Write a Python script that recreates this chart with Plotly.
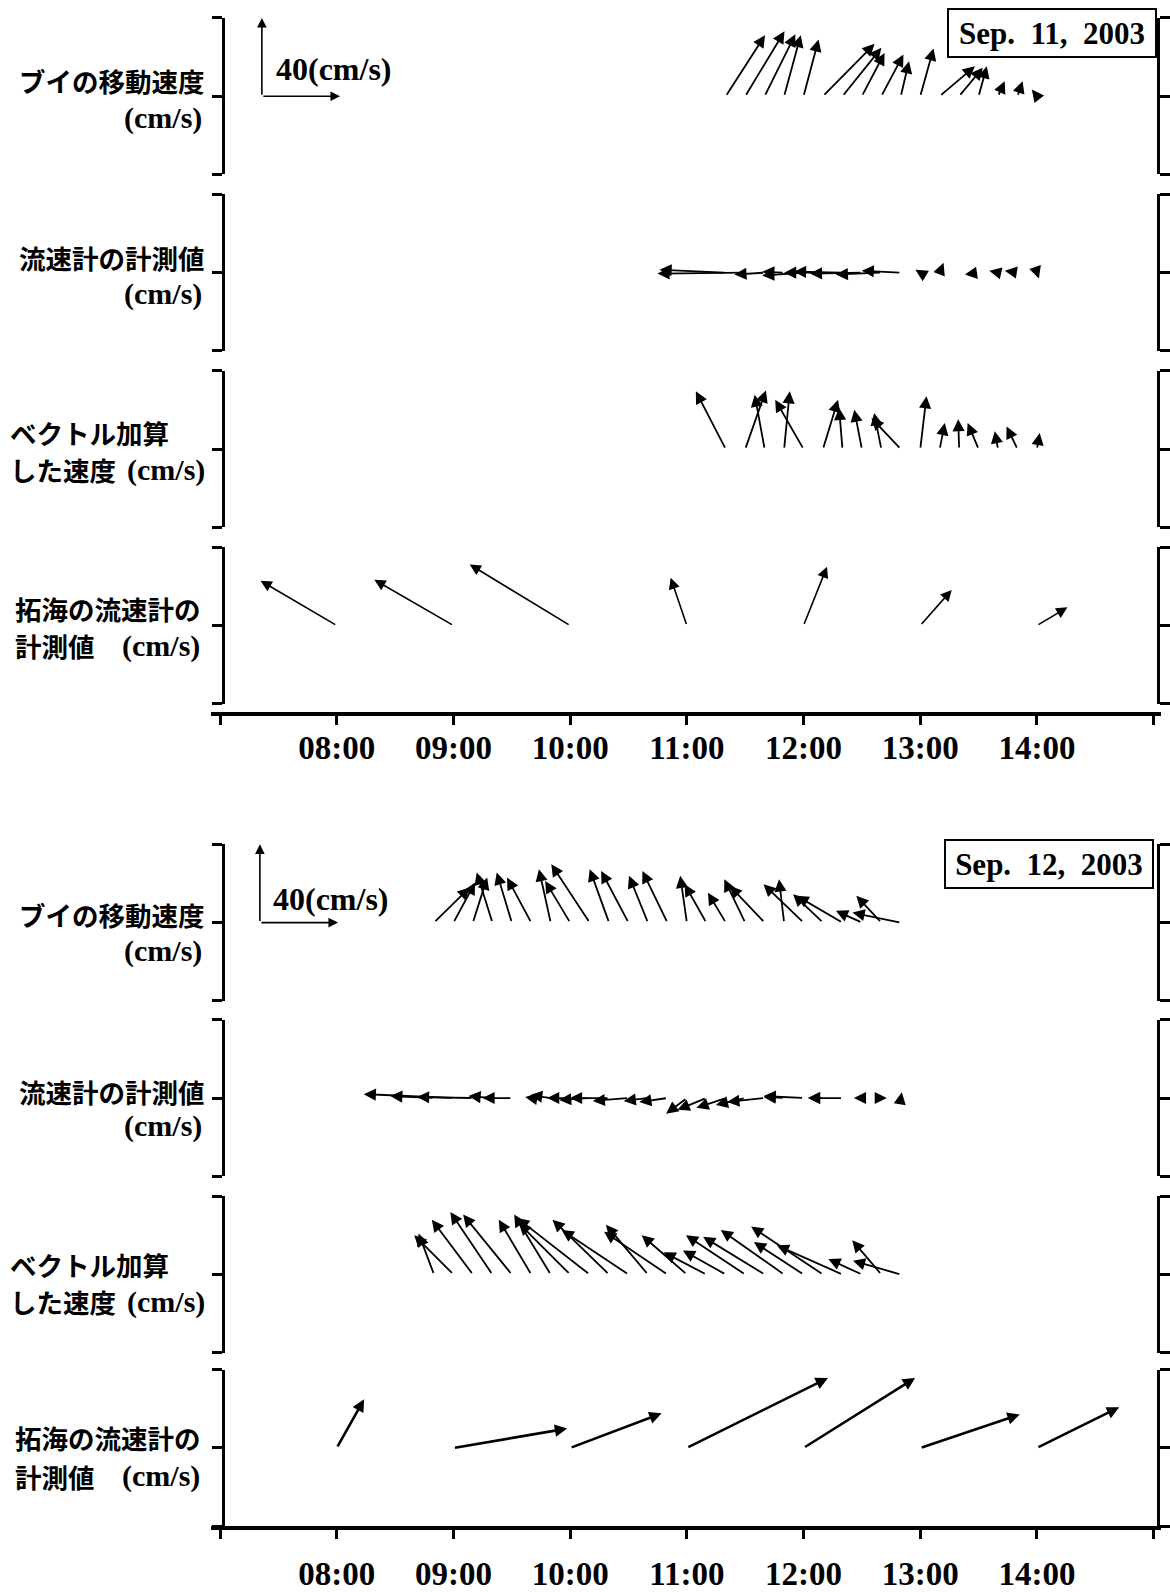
import plotly.graph_objects as go

# ---------------- data (velocity components, cm/s) ----------------
sep11_times = ["11:20", "11:30", "11:40", "11:50", "12:00", "12:10", "12:20", "12:30", "12:40",
               "12:50", "13:00", "13:10", "13:20", "13:30", "13:40", "13:50", "14:00"]
sep11_buoy_u = [20.1, 20.1, 15.7, 8.5, 7.7, 26.4, 19.9, 11.6, 11.3, 4.2, 6.8, 18.0, 12.1, 4.2, 3.4, 2.6, -2.6]
sep11_buoy_v = [31.2, 33.2, 31.6, 31.2, 29.0, 26.8, 24.7, 22.1, 21.3, 17.9, 24.4, 15.3, 14.5, 15.3, 7.7, 7.7, 3.4]
sep11_meter_u = [-33.9, -44.9, -15.5, -11.2, -21.2, -19.9, -24.8, -26.6, -23.3, -20.0, -2.5, 2.0, -1.5, -7.0, -4.5, -6.5, 1.0]
sep11_meter_v = [1.5, -0.5, -1.0, 0.5, -1.5, 0.0, 0.5, -0.5, -1.0, 1.0, 1.5, 5.0, -1.0, -1.0, 1.0, 1.0, -3.0]
sep11_sum_u = [-15.3, 10.6, -5.1, 2.9, -14.5, 7.7, -1.7, -3.9, -3.7, -15.0, 3.2, 2.6, -0.5, -5.6, -1.7, -5.6, 1.4]
sep11_sum_v = [29.5, 30.0, 27.8, 29.5, 25.2, 25.2, 21.0, 20.1, 18.4, 15.9, 27.0, 13.3, 15.3, 13.3, 9.1, 11.6, 8.2]

takumi_times = ["08:00", "09:00", "10:00", "11:00", "12:00", "13:00", "14:00"]
sep11_takumi_u = [-39.0, -40.5, -51.4, -8.3, 12.0, 16.1, 15.6]
sep11_takumi_v = [22.9, 23.4, 31.2, 24.4, 30.1, 18.2, 9.3]

sep12_times = ["08:50", "09:00", "09:10", "09:20", "09:30", "09:40", "09:50", "10:00", "10:10",
               "10:20", "10:30", "10:40", "10:50", "11:00", "11:10", "11:20", "11:30", "11:40",
               "11:50", "12:00", "12:10", "12:20", "12:30", "12:40", "12:50"]
sep12_buoy_u = [18.3, 11.1, 7.3, -8.0, -7.7, -12.4, -6.0, -12.8, -19.6, -9.9, -14.0, -9.7, -12.8,
                -3.4, -11.1, -9.1, -10.7, -17.9, -2.6, -20.5, -15.3, -23.5, -13.3, -12.8, -24.7]
sep12_buoy_v = [18.0, 20.5, 23.0, 25.6, 25.6, 23.0, 27.3, 21.3, 29.8, 27.3, 26.4, 23.9, 26.4,
                23.9, 19.6, 15.3, 22.1, 18.8, 22.1, 19.6, 14.5, 13.7, 6.0, 13.7, 5.1]
sep12_meter_u = [-22.4, -45.9, -28.6, -12.2, -15.0, -3.1, -10.5, -11.8, -15.6, -20.0, -18.3, -12.4, -14.4,
                 -10.6, -14.7, -15.0, -15.0, -19.1, -10.5, -20.4, -7.7, -17.6, -4.1, 2.8, 0.5]
sep12_meter_v = [1.0, 2.0, 0.5, 1.0, 0.0, 0.5, 1.5, 0.0, -1.0, 0.0, -1.5, -1.5, -2.0,
                 -8.0, -6.0, -5.0, -3.5, -2.0, 0.5, 1.0, 0.0, 0.0, 0.0, 0.0, 3.0]
sep12_sum_u = [-7.9, -20.1, -21.0, -21.5, -24.9, -16.6, -18.7, -26.3, -37.1, -28.9, -34.2, -21.5, -32.4,
               -23.1, -21.9, -21.9, -30.3, -31.5, -32.4, -25.4, -36.8, -33.6, -17.2, -14.9, -24.5]
sep12_sum_v = [21.0, 20.1, 28.0, 31.9, 30.6, 28.0, 30.6, 26.3, 28.9, 28.0, 22.8, 25.4, 21.9,
               20.1, 11.4, 12.3, 20.1, 19.3, 22.8, 16.6, 24.5, 14.9, 7.9, 17.5, 7.0]
sep12_takumi_u = [14.0, 58.2, 46.8, 72.2, 57.1, 50.9, 42.1]
sep12_takumi_v = [24.9, 9.9, 17.7, 35.8, 35.8, 17.1, 20.8]

hour_ticks = [7, 8, 9, 10, 11, 12, 13, 14, 15]
hour_labels = ["", "08:00", "09:00", "10:00", "11:00", "12:00", "13:00", "14:00", ""]
y_ticks = [-40, 0, 40]
scale_value = 40
date_labels = ["Sep.\u00a0\u00a011,\u00a0\u00a02003", "Sep.\u00a0\u00a012,\u00a0\u00a02003"]
row_names = ["ブイの移動速度", "流速計の計測値", "ベクトル加算", "拓海の流速計の"]
unit_text = "(cm/s)"

# ---------------- layout constants (pixels) ----------------
W, H = 1170, 1592
PX_T0 = 221.0        # pixel of 07:00
PX_PER_H = 117.2     # pixels per hour
ROW_X = (226.0, 1162.0)
ROWS = [(18, 175), (195, 352), (372, 529), (549, 706),
        (847, 1004), (1023, 1180), (1200, 1357), (1374, 1531)]
AXIS_Y = [714, 1531]
AXIS_STANDOFF = [-5, 6]
AXIS_X = (212.0, 1166.0)
CM_PX = (ROWS[0][1] - ROWS[0][0]) / 80.0   # pixels per cm/s

SERIF = "Times New Roman, Liberation Serif, serif"
JP = "Noto Sans CJK JP, sans-serif"


def hours(s):
    h, m = s.split(":")
    return int(h) + int(m) / 60.0


def px_to_t(px):
    return 7 + (px - PX_T0) / PX_PER_H


def py(p):
    return 1 - p / H


fig = go.Figure()
layout = dict(width=W, height=H, margin=dict(l=0, r=0, t=0, b=0),
              paper_bgcolor="white", plot_bgcolor="rgba(0,0,0,0)", showlegend=False)

for i, (top, bot) in enumerate(ROWS):
    n = i + 1
    layout[f"xaxis{n}"] = dict(domain=[ROW_X[0] / W, ROW_X[1] / W],
                               range=[px_to_t(ROW_X[0]), px_to_t(ROW_X[1])],
                               anchor=f"y{n}", visible=False, fixedrange=True)
    layout[f"yaxis{n}"] = dict(domain=[py(bot), py(top)], range=[-40, 40], anchor=f"x{n}",
                               tickvals=y_ticks, showticklabels=False, ticks="outside",
                               ticklen=10, tickwidth=2.5, tickcolor="black",
                               showline=True, linewidth=2.5, linecolor="black",
                               mirror="ticks", showgrid=False, zeroline=False, fixedrange=True)
    fig.add_trace(go.Scatter(x=[7, 15], y=[0, 0], xaxis=f"x{n}", yaxis=f"y{n}", mode="lines",
                             line=dict(width=0), opacity=0, hoverinfo="skip"))

# time axes
for k, ay_px in enumerate(AXIS_Y):
    n = 9 + k
    layout[f"xaxis{n}"] = dict(domain=[AXIS_X[0] / W, AXIS_X[1] / W],
                               range=[px_to_t(AXIS_X[0]), px_to_t(AXIS_X[1])],
                               anchor=f"y{n}", tickvals=hour_ticks,
                               ticktext=[f"<b>{t}</b>" if t else "" for t in hour_labels],
                               tickfont=dict(family=SERIF, size=33, color="black"),
                               ticks="outside", ticklen=9, tickwidth=2.5, tickcolor="black",
                               showline=True, linewidth=3.5, linecolor="black",
                               showgrid=False, zeroline=False, fixedrange=True,
                               ticklabelstandoff=AXIS_STANDOFF[k])
    layout[f"yaxis{n}"] = dict(domain=[py(ay_px), py(ay_px - 10)], visible=False,
                               range=[0, 1], anchor=f"x{n}", fixedrange=True)
    fig.add_trace(go.Scatter(x=[7, 15], y=[0.5, 0.5], xaxis=f"x{n}", yaxis=f"y{n}", mode="lines",
                             line=dict(width=0), opacity=0, hoverinfo="skip"))

fig.update_layout(**layout)

annotations = []


def add_arrows(n, times, us, vs, width=1.8, size=1.35, head=2):
    for t, u, v in zip(times, us, vs):
        t0 = hours(t)
        annotations.append(dict(
            x=t0 + u * CM_PX / PX_PER_H, y=v, ax=t0, ay=0,
            xref=f"x{n}", yref=f"y{n}", axref=f"x{n}", ayref=f"y{n}",
            text="", showarrow=True, arrowhead=head, arrowsize=size,
            arrowwidth=width, arrowcolor="black", standoff=0, startstandoff=0))


add_arrows(1, sep11_times, sep11_buoy_u, sep11_buoy_v)
add_arrows(2, sep11_times, sep11_meter_u, sep11_meter_v)
add_arrows(3, sep11_times, sep11_sum_u, sep11_sum_v)
add_arrows(4, takumi_times, sep11_takumi_u, sep11_takumi_v, width=1.6, size=1.4)
add_arrows(5, sep12_times, sep12_buoy_u, sep12_buoy_v)
add_arrows(6, sep12_times, sep12_meter_u, sep12_meter_v)
add_arrows(7, sep12_times, sep12_sum_u, sep12_sum_v)
add_arrows(8, takumi_times, sep12_takumi_u, sep12_takumi_v, width=2.6, size=0.95)

# scale keys (40 cm/s)
for n, kx, lab_x, lab_y in [(1, 263, 275, 69), (5, 261, 272, 902)]:
    t0 = px_to_t(kx)
    for (dx, dy) in [(0, scale_value), (scale_value, 0)]:
        annotations.append(dict(
            x=t0 + dx * CM_PX / PX_PER_H, y=dy, ax=t0, ay=0,
            xref=f"x{n}", yref=f"y{n}", axref=f"x{n}", ayref=f"y{n}",
            text="", showarrow=True, arrowhead=2, arrowsize=1.2, arrowwidth=1.6,
            arrowcolor="black", standoff=0, startstandoff=0))
    annotations.append(dict(x=lab_x / W, y=py(lab_y), xref="paper", yref="paper",
                            xanchor="left", yanchor="middle", showarrow=False,
                            text=f"<b>{scale_value}{unit_text}</b>",
                            font=dict(family=SERIF, size=32, color="black")))

# date boxes
for lab, (bx, by) in zip(date_labels, [(951, 8), (948, 842)]):
    annotations.append(dict(x=bx / W, y=py(by), xref="paper", yref="paper",
                            xanchor="left", yanchor="top", showarrow=False,
                            text=f"<b>{lab}</b>", width=206, height=46, borderpad=0,
                            bgcolor="white", bordercolor="black", borderwidth=2,
                            font=dict(family=SERIF, size=31, color="black")))

# row titles
def jp(text, x, y, anchor):
    annotations.append(dict(x=x / W, y=py(y), xref="paper", yref="paper", xanchor=anchor,
                            yanchor="middle", showarrow=False, text=f"<b>{text}</b>",
                            font=dict(family=JP, size=26.5, color="black")))


def unit(x, y):
    annotations.append(dict(x=x / W, y=py(y), xref="paper", yref="paper", xanchor="right",
                            yanchor="middle", showarrow=False, text=f"<b>{unit_text}</b>",
                            font=dict(family=SERIF, size=30, color="black")))


for ys in [[81, 118, 258, 294.5, 434, 471, 610, 648],
           [917, 953.5, 1095, 1130, 1268.5, 1306, 1442, 1481]]:
    jp(row_names[0], 208, ys[0], "right")
    unit(205, ys[1])
    jp(row_names[1], 208, ys[2], "right")
    unit(205, ys[3])
    jp(row_names[2], 8, ys[4], "left")
    jp("した速度", 8, ys[5], "left")
    unit(208, ys[5])
    jp(row_names[3], 13, ys[6], "left")
    jp("計測値", 13, ys[7], "left")
    unit(203, ys[7])

fig.update_layout(annotations=annotations)
fig.write_html("out.html")
